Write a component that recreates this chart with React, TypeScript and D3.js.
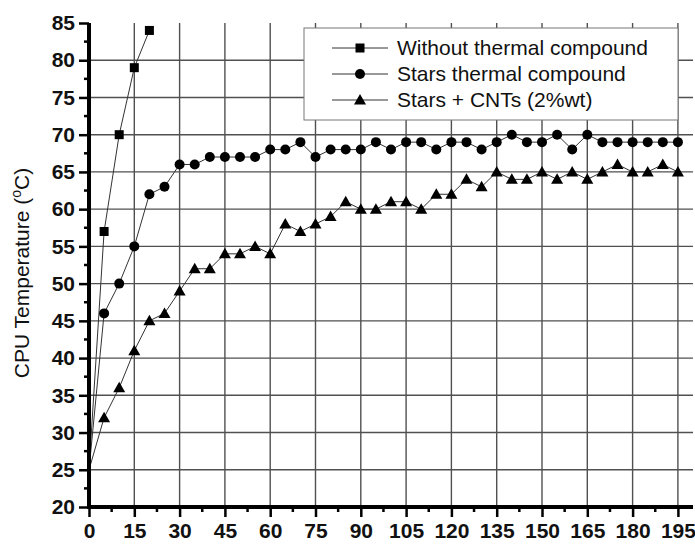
import React, { useEffect, useRef } from "react";
import * as d3 from "d3";

const squareTime = [0, 5, 10, 15, 20];
const squareTemp = [25, 57, 70, 79, 84];

const time = [0, 5, 10, 15, 20, 25, 30, 35, 40, 45, 50, 55, 60, 65, 70, 75, 80, 85, 90, 95,
    100, 105, 110, 115, 120, 125, 130, 135, 140, 145, 150, 155, 160, 165, 170, 175, 180, 185, 190, 195];
const circleTemp = [25, 46, 50, 55, 62, 63, 66, 66, 67, 67, 67, 67, 68, 68, 69, 67, 68, 68, 68, 69,
    68, 69, 69, 68, 69, 69, 68, 69, 70, 69, 69, 70, 68, 70, 69, 69, 69, 69, 69, 69];
const triangleTemp = [25, 32, 36, 41, 45, 46, 49, 52, 52, 54, 54, 55, 54, 58, 57, 58, 59, 61, 60, 60,
    61, 61, 60, 62, 62, 64, 63, 65, 64, 64, 65, 64, 65, 64, 65, 66, 65, 65, 66, 65];

const xTicks = [0, 15, 30, 45, 60, 75, 90, 105, 120, 135, 150, 165, 180, 195];
const yTicks = [20, 25, 30, 35, 40, 45, 50, 55, 60, 65, 70, 75, 80, 85];
const legendLabels = ["Without thermal compound", "Stars thermal compound", "Stars + CNTs (2%wt)"];
const markerTypes = ["square", "circle", "triangle"];

const App = () => {
    const ref = useRef(null);

    useEffect(() => {
        const g = d3.select(ref.current);
        g.selectAll("*").remove();

        const width = 695;
        const height = 546;
        const margin = { top: 23, right: 2, bottom: 39, left: 89 };

        const xScale = d3.scaleLinear()
            .domain([0, 200])
            .range([margin.left, width - margin.right]);
        const yScale = d3.scaleLinear()
            .domain([20, 85])
            .range([height - margin.bottom, margin.top]);

        const series = [
            squareTime.map((t, i) => ({ x: t, y: squareTemp[i] })),
            time.map((t, i) => ({ x: t, y: circleTemp[i] })),
            time.map((t, i) => ({ x: t, y: triangleTemp[i] })),
        ];

        // grid
        g.append("g")
            .selectAll("line")
            .data(yTicks.filter(v => v > 20 && v < 85))
            .enter().append("line")
                .attr("x1", xScale(0))
                .attr("x2", xScale(200))
                .attr("y1", d => yScale(d))
                .attr("y2", d => yScale(d))
                .attr("stroke", "#505050")
                .attr("stroke-width", 1.4);

        g.append("g")
            .selectAll("line")
            .data(xTicks.filter(v => v > 0))
            .enter().append("line")
                .attr("x1", d => xScale(d))
                .attr("x2", d => xScale(d))
                .attr("y1", yScale(85))
                .attr("y2", yScale(20))
                .attr("stroke", "#505050")
                .attr("stroke-width", 1.4);

        const drawMarker = (sel, type) => {
            if (type === "square") {
                sel.append("rect")
                    .attr("x", -4.5).attr("y", -4.5)
                    .attr("width", 9).attr("height", 9)
                    .attr("fill", "#000");
            } else if (type === "circle") {
                sel.append("circle")
                    .attr("r", 5)
                    .attr("fill", "#000");
            } else {
                sel.append("path")
                    .attr("d", "M0,-6L6,4.5L-6,4.5Z")
                    .attr("fill", "#000");
            }
        };

        const line = d3.line()
            .x(d => xScale(d.x))
            .y(d => yScale(d.y));

        series.forEach((data, i) => {
            g.append("path")
                .datum(data)
                .attr("d", line)
                .attr("fill", "none")
                .attr("stroke", "#333")
                .attr("stroke-width", 1);

            // no marker at t = 0, it sits under the axis
            g.append("g")
                .selectAll("g")
                .data(data.filter(d => d.x > 0))
                .enter().append("g")
                    .attr("transform", d => `translate(${xScale(d.x)}, ${yScale(d.y)})`)
                    .each(function () { drawMarker(d3.select(this), markerTypes[i]); });
        });

        // legend
        const legend = g.append("g");
        legend.append("rect")
            .attr("x", 304)
            .attr("y", 28)
            .attr("width", 374)
            .attr("height", 92)
            .attr("fill", "#fff")
            .attr("stroke", "#777")
            .attr("stroke-width", 1);

        legendLabels.forEach((label, i) => {
            const cy = 48 + i * 26;
            const row = legend.append("g").attr("transform", `translate(0, ${cy})`);
            row.append("line")
                .attr("x1", 332).attr("x2", 388)
                .attr("y1", 0).attr("y2", 0)
                .attr("stroke", "#333")
                .attr("stroke-width", 1);
            drawMarker(row.append("g").attr("transform", "translate(360, 0)"), markerTypes[i]);
            row.append("text")
                .attr("x", 397)
                .attr("y", 7)
                .attr("font-family", "Liberation Sans, Arial, sans-serif")
                .attr("font-size", 21)
                .attr("fill", "#111")
                .text(label);
        });

        // axes
        const yAxis = d3.axisLeft(yScale)
            .tickValues(yTicks)
            .tickSize(10)
            .tickPadding(4);
        const yAxisG = g.append("g")
            .attr("transform", `translate(${margin.left}, 0)`)
            .call(yAxis);
        yAxisG.select(".domain")
            .attr("stroke", "#000")
            .attr("stroke-width", 4)
            .attr("d", `M0,${yScale(85)}V${yScale(20) + 2}`);
        yAxisG.selectAll(".tick line").attr("stroke", "#000").attr("stroke-width", 2.5);
        yAxisG.selectAll("text")
            .attr("font-family", "Liberation Sans, Arial, sans-serif")
            .attr("font-weight", "bold")
            .attr("font-size", 21)
            .attr("fill", "#111");

        const yMinor = yTicks.slice(0, -1).map(v => v + 2.5);
        yAxisG.append("g")
            .selectAll("line")
            .data(yMinor)
            .enter().append("line")
                .attr("x1", -5).attr("x2", 0)
                .attr("y1", d => yScale(d)).attr("y2", d => yScale(d))
                .attr("stroke", "#000")
                .attr("stroke-width", 2.5);

        const xAxis = d3.axisBottom(xScale)
            .tickValues(xTicks)
            .tickSize(10)
            .tickPadding(6);
        const xAxisG = g.append("g")
            .attr("transform", `translate(0, ${height - margin.bottom})`)
            .call(xAxis);
        xAxisG.select(".domain")
            .attr("stroke", "#000")
            .attr("stroke-width", 4)
            .attr("d", `M${xScale(0) - 2},0H${xScale(200)}`);
        xAxisG.selectAll(".tick line").attr("stroke", "#000").attr("stroke-width", 2.5);
        xAxisG.selectAll("text")
            .attr("font-family", "Liberation Sans, Arial, sans-serif")
            .attr("font-weight", "bold")
            .attr("font-size", 21)
            .attr("fill", "#111");

        const xMinor = xTicks.map(v => v + 7.5);
        xAxisG.append("g")
            .selectAll("line")
            .data(xMinor)
            .enter().append("line")
                .attr("x1", d => xScale(d)).attr("x2", d => xScale(d))
                .attr("y1", 0).attr("y2", 5)
                .attr("stroke", "#000")
                .attr("stroke-width", 2.5);

        // y title
        const title = g.append("text")
            .attr("transform", `translate(29, ${(yScale(20) + yScale(85)) / 2 + 8}) rotate(-90)`)
            .attr("text-anchor", "middle")
            .attr("font-family", "Liberation Sans, Arial, sans-serif")
            .attr("font-size", 21)
            .attr("fill", "#111");
        title.append("tspan").text("CPU Temperature (");
        title.append("tspan").attr("font-size", 14).attr("dy", -8).text("o");
        title.append("tspan").attr("dy", 8).text("C)");
    }, []);

    return (
        <div>
            <svg width={695} height={546} style={{ position: "absolute", left: 0, top: 0, background: "#fff" }}>
                <g ref={ref} />
            </svg>
        </div>
    );
};

export default App;
